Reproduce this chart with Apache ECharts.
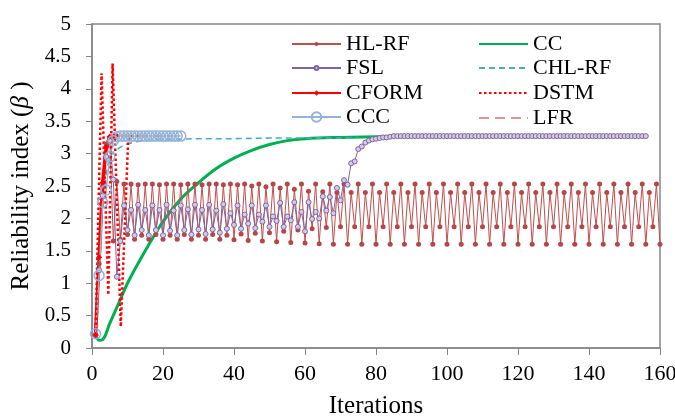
<!DOCTYPE html>
<html>
<head>
<meta charset="utf-8">
<script src="https://cdn.jsdelivr.net/npm/echarts@6/dist/echarts.min.js"></script>
<style>
  html, body { margin: 0; padding: 0; background: #fff; }
  #chart { width: 675px; height: 417px; }
</style>
</head>
<body>
<div id="chart"></div>
<script>
// iterations start at 1 for the index based series
const hlrf = [
  0.2, 1.3, 2.5, 3.15, 3.25, 1.65, 2.57, 1.68, 2.53, 1.75,
  2.53, 1.68, 2.52, 1.74, 2.53, 1.68, 2.53, 1.75, 2.52, 1.68,
  2.53, 1.74, 2.53, 1.68, 2.52, 1.75, 2.53, 1.68, 2.53, 1.74,
  2.52, 1.68, 2.53, 1.75, 2.53, 1.68, 2.52, 1.74, 2.53, 1.67,
  2.52, 1.76, 2.53, 1.66, 2.50, 1.77, 2.53, 1.65, 2.49, 1.78,
  2.53, 1.64, 2.47, 1.80, 2.53, 1.63, 2.45, 1.82, 2.53, 1.62,
  2.42, 1.84, 2.53, 1.61, 2.41, 1.86, 2.53, 1.60, 2.40, 1.87,
  2.53, 1.60, 2.40, 1.87, 2.53, 1.60, 2.40, 1.87, 2.53, 1.60,
  2.40, 1.87, 2.53, 1.60, 2.40, 1.87, 2.53, 1.60, 2.40, 1.87,
  2.53, 1.60, 2.40, 1.87, 2.53, 1.60, 2.40, 1.87, 2.53, 1.60,
  2.40, 1.87, 2.53, 1.60, 2.40, 1.87, 2.53, 1.60, 2.40, 1.87,
  2.53, 1.60, 2.40, 1.87, 2.53, 1.60, 2.40, 1.87, 2.53, 1.60,
  2.40, 1.87, 2.53, 1.60, 2.40, 1.87, 2.53, 1.60, 2.40, 1.87,
  2.53, 1.60, 2.40, 1.87, 2.53, 1.60, 2.40, 1.87, 2.53, 1.60,
  2.40, 1.87, 2.53, 1.60, 2.40, 1.87, 2.53, 1.60, 2.40, 1.87,
  2.53, 1.60, 2.40, 1.87, 2.53, 1.60, 2.40, 1.87, 2.53, 1.60
];
const fsl = [
  0.2, 1.2, 2.35, 2.95, 3.2, 2.6, 1.1, 1.65, 2.2, 1.82,
  2.13, 1.74, 2.21, 1.82, 2.13, 1.74, 2.2, 1.82, 2.13, 1.74,
  2.21, 1.81, 2.12, 1.74, 2.2, 1.82, 2.14, 1.75, 2.21, 1.83,
  2.13, 1.76, 2.21, 1.83, 2.12, 1.78, 2.22, 1.84, 2.08, 1.9,
  2.2, 1.84, 2.06, 1.92, 2.2, 1.85, 2.06, 1.95, 2.2, 1.87,
  2.03, 1.96, 2.24, 1.87, 2.03, 1.97, 2.25, 1.87, 2.1, 1.8,
  2.25, 1.99, 2.1, 2.0, 2.34, 2.12, 2.33, 2.08, 2.47, 2.28,
  2.59, 2.52, 2.85, 2.88, 3.07, 3.11, 3.17, 3.2, 3.22, 3.23,
  3.24, 3.25, 3.25, 3.26, 3.27, 3.27, 3.27, 3.27, 3.27, 3.27,
  3.27, 3.27, 3.27, 3.27, 3.27, 3.27, 3.27, 3.27, 3.27, 3.27,
  3.27, 3.27, 3.27, 3.27, 3.27, 3.27, 3.27, 3.27, 3.27, 3.27,
  3.27, 3.27, 3.27, 3.27, 3.27, 3.27, 3.27, 3.27, 3.27, 3.27,
  3.27, 3.27, 3.27, 3.27, 3.27, 3.27, 3.27, 3.27, 3.27, 3.27,
  3.27, 3.27, 3.27, 3.27, 3.27, 3.27, 3.27, 3.27, 3.27, 3.27,
  3.27, 3.27, 3.27, 3.27, 3.27, 3.27, 3.27, 3.27, 3.27, 3.27,
  3.27, 3.27, 3.27, 3.27, 3.27, 3.27
];
const cform = [0.2, 1.4, 2.55, 3.1, 3.26, 3.27, 3.27];
const ccc = [
  0.22, 1.12, 2.25, 2.44, 2.95, 3.2, 3.26, 3.27, 3.27, 3.27,
  3.27, 3.27, 3.27, 3.27, 3.27, 3.27, 3.27, 3.27, 3.27, 3.27,
  3.27, 3.27, 3.27, 3.27, 3.27
];
const lfr = [
  0.2, 1.2, 2.4, 3.0, 3.2, 3.26, 3.27, 3.27, 3.27, 3.27,
  3.27, 3.27, 3.27, 3.27, 3.27, 3.27, 3.27, 3.27, 3.27, 3.27,
  3.27, 3.27
];
// series with their own iteration positions
const ccIter = [1, 2, 3, 5, 8, 10, 15, 20, 25, 30, 35, 40, 45, 50, 55, 60, 70, 80, 90];
const ccBeta = [0.22, 0.12, 0.13, 0.38, 0.75, 1.0, 1.5, 1.95, 2.3, 2.55, 2.77, 2.93, 3.05, 3.14, 3.2, 3.23, 3.25, 3.26, 3.27];
const chlIter = [1, 2, 3, 4, 5, 6, 8, 10, 12, 15, 20, 30, 40, 50, 60, 75];
const chlBeta = [0.2, 1.15, 2.3, 2.7, 2.95, 3.02, 3.1, 3.15, 3.18, 3.2, 3.22, 3.23, 3.23, 3.24, 3.24, 3.24];
const dstmIter = [1, 2.7, 4.6, 5.8, 8.1, 10.2, 11, 13];
const dstmBeta = [0.2, 4.24, 0.82, 4.39, 0.33, 3.22, 3.27, 3.27];

const xTicks = { min: 0, max: 160, interval: 20 };
const yTicks = { min: 0, max: 5, interval: 0.5 };

const byIndex = arr => arr.map((v, i) => [i + 1, v]);
const zip = (xs, ys) => xs.map((x, i) => [x, ys[i]]);

const font = 'Liberation Serif, Times New Roman, serif';
const gray = '#868686';

// one legend per entry so each can get its own marker size
// [name, left, top, icon height, hide marker]
const legendSlots = [
  ['HL-RF', 291, 33, 5, false],
  ['FSL', 291, 57, 5, false],
  ['CFORM', 291, 82, 7, false],
  ['CCC', 291, 106, 12, false],
  ['CC', 478, 33, 6, true],
  ['CHL-RF', 478, 57, 6, true],
  ['DSTM', 478, 82, 6, true],
  ['LFR', 478, 107, 6, true]
];
const legends = legendSlots.map(([name, left, top, h, hide]) => ({
  left: left, top: top, padding: 0,
  itemWidth: 49, itemHeight: h, itemGap: 0,
  textStyle: { fontFamily: font, fontSize: 22, color: '#000' },
  data: [hide ? { name: name, itemStyle: { opacity: 0 } } : name]
}));

const myChart = echarts.init(document.getElementById('chart'));
myChart.setOption({
  animation: false,
  backgroundColor: '#fff',
  textStyle: { fontFamily: font },
  grid: {
    left: 92, right: 15, top: 24, bottom: 69,
    outerBoundsMode: 'none',
    show: true, borderColor: gray, borderWidth: 1.5
  },
  legend: legends,
  xAxis: {
    type: 'value',
    min: xTicks.min, max: xTicks.max, interval: xTicks.interval,
    name: 'Iterations',
    nameLocation: 'middle',
    nameGap: 46,
    nameTextStyle: { fontFamily: font, fontSize: 25, color: '#000' },
    axisLine: { lineStyle: { color: gray, width: 1.5 } },
    axisTick: { inside: false, length: 7, lineStyle: { color: gray } },
    axisLabel: { fontFamily: font, fontSize: 22, color: '#000', margin: 15 },
    splitLine: { show: false }
  },
  yAxis: {
    type: 'value',
    min: yTicks.min, max: yTicks.max, interval: yTicks.interval,
    name: 'Reliability index ({b|β} )',
    nameLocation: 'middle',
    nameGap: 44,
    nameTextStyle: {
      fontFamily: font, fontSize: 25, color: '#000',
      rich: { b: { fontFamily: font, fontSize: 25, fontStyle: 'italic', color: '#000' } }
    },
    axisLine: { show: true, lineStyle: { color: gray, width: 1.5 } },
    axisTick: { show: true, inside: false, length: 6, lineStyle: { color: gray } },
    axisLabel: { fontFamily: font, fontSize: 21, color: '#000', margin: 21 },
    splitLine: { show: false }
  },
  series: [
    {
      name: 'CC', type: 'line', smooth: 0.4, symbol: 'none',
      lineStyle: { color: '#00B050', width: 3 },
      itemStyle: { color: '#00B050' },
      data: zip(ccIter, ccBeta)
    },
    {
      name: 'CHL-RF', type: 'line', symbol: 'none',
      lineStyle: { color: '#4BACC6', width: 1.6, type: [6, 4] },
      itemStyle: { color: '#4BACC6' },
      data: zip(chlIter, chlBeta)
    },
    {
      name: 'HL-RF', type: 'line', symbol: 'circle', symbolSize: 5, showAllSymbol: true,
      lineStyle: { color: '#C0504D', width: 1 },
      itemStyle: { color: '#B5474A' },
      data: byIndex(hlrf)
    },
    {
      name: 'FSL', type: 'line', symbol: 'circle', symbolSize: 5, showAllSymbol: true,
      lineStyle: { color: '#8064A2', width: 1 },
      itemStyle: { color: '#D5CCE3', borderColor: '#8064A2', borderWidth: 1 },
      data: byIndex(fsl)
    },
    {
      name: 'LFR', type: 'line', symbol: 'none',
      lineStyle: { color: '#D99694', width: 3, type: [10, 6] },
      itemStyle: { color: '#D99694' },
      data: byIndex(lfr)
    },
    {
      name: 'CFORM', type: 'line', symbol: 'diamond', symbolSize: 6,
      lineStyle: { color: '#FF0000', width: 3.5 },
      itemStyle: { color: '#FF0000' },
      data: byIndex(cform)
    },
    {
      name: 'CCC', type: 'line', symbol: 'circle', symbolSize: 10, showAllSymbol: true,
      lineStyle: { color: '#95B3D7', width: 1.5 },
      itemStyle: { color: 'rgba(255,255,255,0)', borderColor: '#95B3D7', borderWidth: 1.5 },
      data: byIndex(ccc)
    },
    {
      name: 'DSTM', type: 'line', symbol: 'none',
      lineStyle: { color: '#FF0000', width: 2.5, type: [2.5, 2.5] },
      itemStyle: { color: '#FF0000' },
      data: zip(dstmIter, dstmBeta)
    }
  ]
});
myChart.resize();
</script>
</body>
</html>
